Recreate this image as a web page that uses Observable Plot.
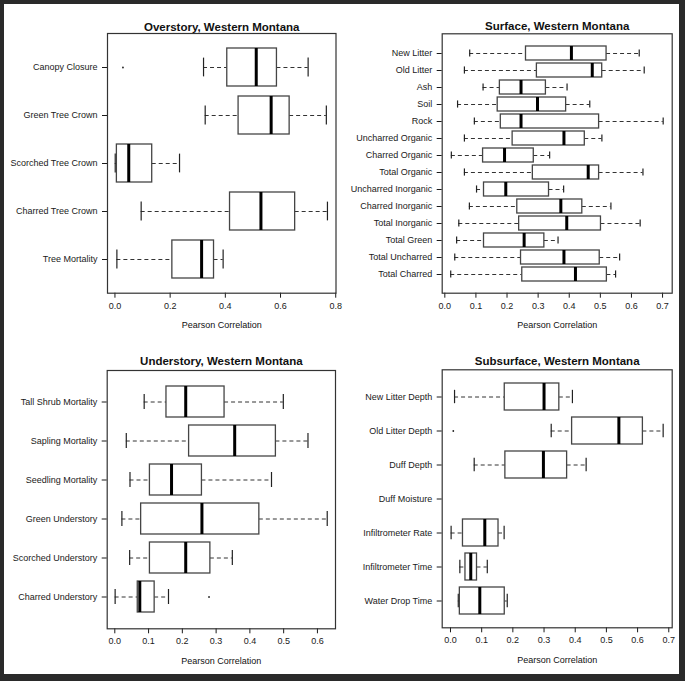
<!DOCTYPE html>
<html>
<head>
<meta charset="utf-8">
<script src="https://cdn.jsdelivr.net/npm/d3@7"></script>
<script src="https://cdn.jsdelivr.net/npm/@observablehq/plot@0.6"></script>
<style>
  html, body { margin: 0; padding: 0; background: #2a2a2a; }
  #wrap { position: relative; width: 685px; height: 681px; background: #2a2a2a; overflow: hidden; }
  #inner { position: absolute; left: 4px; top: 4px; width: 675px; height: 670px; background: #ffffff; }
  .panel { position: absolute; }
</style>
</head>
<body>
<div id="wrap"><div id="inner"></div></div>
<script>
// ---------- Overstory ----------
const overstoryCats = ["Canopy Closure", "Green Tree Crown", "Scorched Tree Crown", "Charred Tree Crown", "Tree Mortality"];
const overstoryLow  = [0.321, 0.327, 0.001, 0.095, 0.007];
const overstoryQ1   = [0.407, 0.448, 0.007, 0.417, 0.208];
const overstoryMed  = [0.512, 0.566, 0.050, 0.529, 0.314];
const overstoryQ3   = [0.587, 0.633, 0.135, 0.653, 0.359];
const overstoryHigh = [0.700, 0.766, 0.234, 0.770, 0.392];
const overstoryOutCats = ["Canopy Closure"];
const overstoryOutVals = [0.029];
const overstoryTicks = [0, 0.2, 0.4, 0.6, 0.8];

// ---------- Surface ----------
const surfaceCats = ["New Litter", "Old Litter", "Ash", "Soil", "Rock", "Uncharred Organic", "Charred Organic",
  "Total Organic", "Uncharred Inorganic", "Charred Inorganic", "Total Inorganic", "Total Green",
  "Total Uncharred", "Total Charred"];
const surfaceLow  = [0.080, 0.063, 0.123, 0.041, 0.095, 0.063, 0.021, 0.063, 0.102, 0.079, 0.045, 0.038, 0.032, 0.019];
const surfaceQ1   = [0.261, 0.296, 0.177, 0.170, 0.180, 0.218, 0.123, 0.283, 0.126, 0.233, 0.239, 0.126, 0.245, 0.249];
const surfaceMed  = [0.407, 0.474, 0.245, 0.298, 0.245, 0.383, 0.192, 0.461, 0.196, 0.373, 0.392, 0.255, 0.383, 0.420];
const surfaceQ3   = [0.520, 0.506, 0.325, 0.390, 0.496, 0.450, 0.286, 0.496, 0.335, 0.442, 0.502, 0.320, 0.498, 0.521];
const surfaceHigh = [0.625, 0.641, 0.393, 0.466, 0.702, 0.505, 0.337, 0.637, 0.382, 0.534, 0.628, 0.364, 0.562, 0.549];
const surfaceOutCats = [];
const surfaceOutVals = [];
const surfaceTicks = [0, 0.1, 0.2, 0.3, 0.4, 0.5, 0.6, 0.7];

// ---------- Understory ----------
const understoryCats = ["Tall Shrub Mortality", "Sapling Mortality", "Seedling Mortality", "Green Understory",
  "Scorched Understory", "Charred Understory"];
const understoryLow  = [0.087, 0.034, 0.045, 0.021, 0.044, 0.001];
const understoryQ1   = [0.153, 0.220, 0.104, 0.078, 0.104, 0.068];
const understoryMed  = [0.210, 0.355, 0.168, 0.258, 0.210, 0.074];
const understoryQ3   = [0.325, 0.477, 0.258, 0.428, 0.283, 0.118];
const understoryHigh = [0.499, 0.572, 0.464, 0.629, 0.348, 0.159];
const understoryOutCats = ["Charred Understory"];
const understoryOutVals = [0.279];
const understoryTicks = [0, 0.1, 0.2, 0.3, 0.4, 0.5, 0.6];

// ---------- Subsurface ----------
const subsurfaceCats = ["New Litter Depth", "Old Litter Depth", "Duff Depth", "Duff Moisture",
  "Infiltrometer Rate", "Infiltrometer Time", "Water Drop Time"];
const subsurfaceLow  = [0.013, 0.323, 0.076, null, 0.002, 0.030, 0.025];
const subsurfaceQ1   = [0.174, 0.390, 0.176, null, 0.040, 0.048, 0.030];
const subsurfaceMed  = [0.300, 0.540, 0.298, null, 0.110, 0.065, 0.094];
const subsurfaceQ3   = [0.349, 0.617, 0.374, null, 0.154, 0.085, 0.174];
const subsurfaceHigh = [0.391, 0.682, 0.435, null, 0.172, 0.118, 0.182];
const subsurfaceOutCats = ["Old Litter Depth"];
const subsurfaceOutVals = [0.009];
const subsurfaceTicks = [0, 0.1, 0.2, 0.3, 0.4, 0.5, 0.6, 0.7];

const FONT = "'Liberation Sans', Arial, Helvetica, sans-serif";
const BOXC = "#454545";

function panel(cfg) {
  const {cats, low, q1, med, q3, high, outCats, outVals, ticks, title, xDomain,
         left, top, width, height, mL, mR, mT, mB, titleDy} = cfg;
  const rows = cats.map((c, i) => ({cat: c, low: low[i], q1: q1[i], med: med[i], q3: q3[i], high: high[i]}))
                   .filter(d => d.med != null);
  const outs = outCats.map((c, i) => ({cat: c, v: outVals[i]}));
  const n = cats.length;
  const pOuter = 0.1 + 0.04 * n;
  const step = (height - mT - mB) / (n - 0.2 + 2 * pOuter);
  const capInset = 0.8 * step / 4;
  const chart = Plot.plot({
    width, height,
    marginLeft: mL, marginRight: mR, marginTop: mT, marginBottom: mB,
    style: {fontFamily: FONT, fontSize: "9px", color: "#1a1a1a", background: "transparent", overflow: "visible"},
    x: {domain: xDomain, ticks: ticks, tickFormat: d3.format(".1f"), tickSize: 5, tickPadding: 4, label: null},
    y: {type: "band", domain: cats, paddingInner: 0.2, paddingOuter: pOuter, align: 0.5,
        tickSize: 5, tickPadding: 5, label: null},
    marks: [
      Plot.ruleY(rows, {y: "cat", x1: "low", x2: "q1", stroke: "#333", strokeWidth: 1, strokeDasharray: "4,3"}),
      Plot.ruleY(rows, {y: "cat", x1: "q3", x2: "high", stroke: "#333", strokeWidth: 1, strokeDasharray: "4,3"}),
      Plot.tickX(rows, {y: "cat", x: "low", stroke: "#222", strokeWidth: 1.2, insetTop: capInset, insetBottom: capInset}),
      Plot.tickX(rows, {y: "cat", x: "high", stroke: "#222", strokeWidth: 1.2, insetTop: capInset, insetBottom: capInset}),
      Plot.barX(rows, {y: "cat", x1: "q1", x2: "q3", fill: "white", stroke: BOXC, strokeWidth: 1.3}),
      Plot.tickX(rows, {y: "cat", x: "med", stroke: "#000", strokeWidth: 3}),
      Plot.dot(outs, {y: "cat", x: "v", r: 0.9, fill: "#222", stroke: "none"}),
      Plot.frame({stroke: "#333", strokeWidth: 1.2}),
      Plot.text([title], {text: d => d, frameAnchor: "top", dy: titleDy, fontWeight: "bold", fontSize: 11.5, fill: "#111"}),
      Plot.text(["Pearson Correlation"], {text: d => d, frameAnchor: "bottom", dy: 35, fontSize: 9, fill: "#111"})
    ]
  });
  chart.classList.add("panel");
  chart.style.position = "absolute";
  chart.style.left = left + "px";
  chart.style.top = top + "px";
  document.getElementById("wrap").appendChild(chart);
}

panel({cats: overstoryCats, low: overstoryLow, q1: overstoryQ1, med: overstoryMed, q3: overstoryQ3, high: overstoryHigh,
  outCats: overstoryOutCats, outVals: overstoryOutVals, ticks: overstoryTicks,
  title: "Overstory, Western Montana", xDomain: [-0.027, 0.801],
  left: 0, top: 0, width: 342, height: 340, mL: 107, mR: 6.5, mT: 33, mB: 47.3, titleDy: -11});

panel({cats: surfaceCats, low: surfaceLow, q1: surfaceQ1, med: surfaceMed, q3: surfaceQ3, high: surfaceHigh,
  outCats: surfaceOutCats, outVals: surfaceOutVals, ticks: surfaceTicks,
  title: "Surface, Western Montana", xDomain: [-0.0084, 0.731],
  left: 342, top: 0, width: 343, height: 340, mL: 99.7, mR: 13.3, mT: 33.3, mB: 47.3, titleDy: -11.6});

panel({cats: understoryCats, low: understoryLow, q1: understoryQ1, med: understoryMed, q3: understoryQ3, high: understoryHigh,
  outCats: understoryOutCats, outVals: understoryOutVals, ticks: understoryTicks,
  title: "Understory, Western Montana", xDomain: [-0.0225, 0.6535],
  left: 0, top: 340, width: 342, height: 341, mL: 106.7, mR: 7, mT: 30, mB: 52.7, titleDy: -14});

panel({cats: subsurfaceCats, low: subsurfaceLow, q1: subsurfaceQ1, med: subsurfaceMed, q3: subsurfaceQ3, high: subsurfaceHigh,
  outCats: subsurfaceOutCats, outVals: subsurfaceOutVals, ticks: subsurfaceTicks,
  title: "Subsurface, Western Montana", xDomain: [-0.0266, 0.711],
  left: 342, top: 340, width: 343, height: 341, mL: 99.7, mR: 13.3, mT: 29.3, mB: 53.7, titleDy: -13.3});
</script>
</body>
</html>
